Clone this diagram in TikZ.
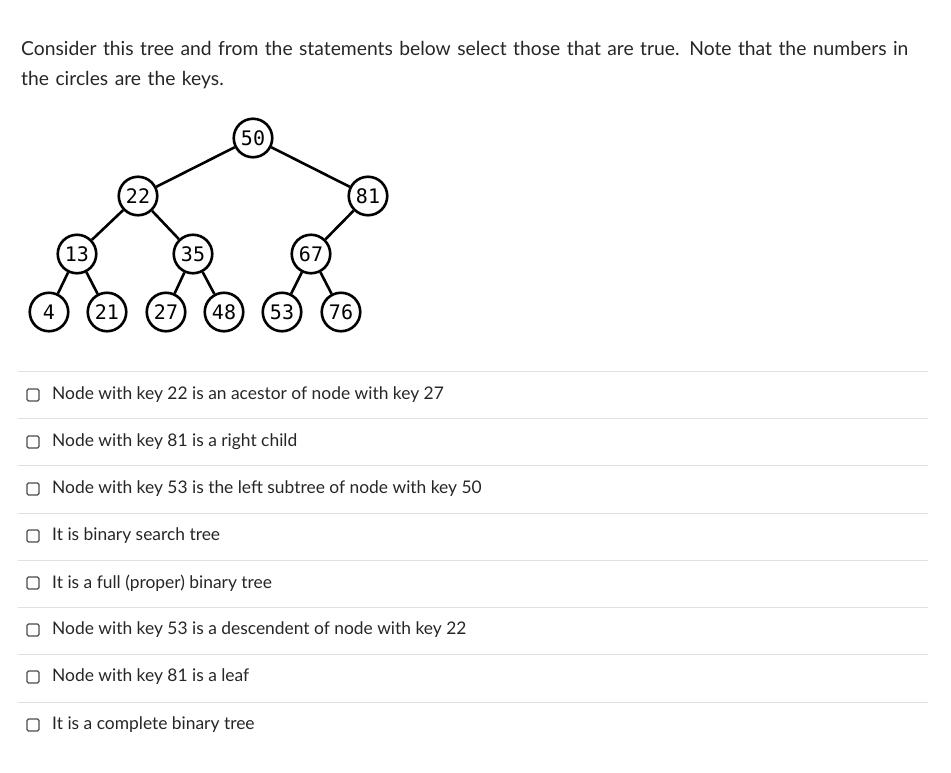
\documentclass[tikz,border=0pt]{standalone}
\usepackage{fontspec}
\setmainfont{Lato}
\newfontfamily\treefont{DejaVu Sans Mono}
\begin{document}
\begin{tikzpicture}[x=1pt,y=-1pt,
  key/.style={circle,draw,line width=2.6pt,minimum size=38.5pt,inner sep=0pt,font=\treefont\fontsize{20}{20}\selectfont},
  edge/.style={line width=2.6pt},
  sep/.style={draw=black!12,line width=0.8pt},
  box/.style={draw=black!70,line width=1.3pt,rounded corners=1.5pt,minimum size=12pt,inner sep=0pt},
  opt/.style={anchor=west,font=\fontsize{17.4}{20}\selectfont,text=black!85,inner sep=0pt}]
\useasboundingbox (0,0) rectangle (951,772);
\node[anchor=north west,align=left,text width=900pt,font=\fontsize{19.3}{30.5}\selectfont,text=black!85,inner sep=0pt] (q) at (21,41)
 {Consider this tree and from the statements below select those that are true. Note that the numbers in the circles are the keys.};
\node[key] (n50) at (253,138) {50};
\node[key] (n22) at (138,196) {22};
\node[key] (n81) at (368,196) {81};
\node[key] (n13) at (77,254) {13};
\node[key] (n35) at (193,254) {35};
\node[key] (n67) at (311,254) {67};
\node[key] (n4) at (49,312) {4};
\node[key] (n21) at (107,312) {21};
\node[key] (n27) at (166,312) {27};
\node[key] (n48) at (224,312) {48};
\node[key] (n53) at (282,312) {53};
\node[key] (n76) at (341,312) {76};
\foreach \a/\b in {n50/n22,n50/n81,n22/n13,n22/n35,n81/n67,n13/n4,n13/n21,n35/n27,n35/n48,n67/n53,n67/n76}
  \draw[edge] (\a) -- (\b);
\foreach \y in {371,418,465,513,560,607,654,702}
  \draw[sep] (18,\y) -- (928,\y);
\foreach \y/\t [count=\i] in {395/Node with key 22 is an acestor of node with key 27,
  442/Node with key 81 is a right child,
  489/Node with key 53 is the left subtree of node with key 50,
  536/It is binary search tree,
  583/It is a full (proper) binary tree,
  630/Node with key 53 is a descendent of node with key 22,
  677/Node with key 81 is a leaf,
  725/It is a complete binary tree}{
  \node[box] (b\i) at (33,\y) {};
  \node[opt] (t\i) at (52,\y) {\t};
}
\end{tikzpicture}
\end{document}
